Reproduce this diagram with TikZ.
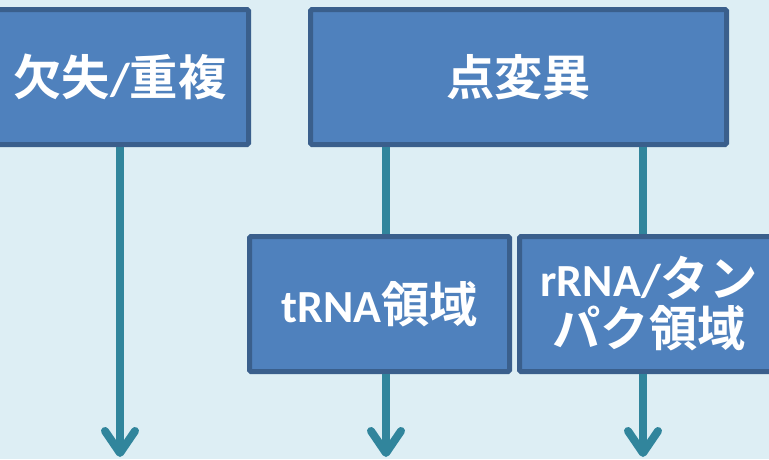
\documentclass[tikz,border=0pt]{standalone}
\usepackage{fontspec}
\setmainfont{Carlito}
\newfontfamily\cjk{Noto Sans CJK JP Bold}[BoldFont={Noto Sans CJK JP Bold},Scale=1.05]
\usetikzlibrary{arrows.meta}
\definecolor{bgc}{HTML}{DDEEF4}
\definecolor{boxfill}{HTML}{4F81BD}
\definecolor{boxline}{HTML}{3A5F8C}
\definecolor{teal}{HTML}{31859C}
\begin{document}
\begin{tikzpicture}[x=1pt,y=-1pt,
  box/.style={draw=boxline,fill=boxfill,line width=5pt,rounded corners=1.5pt,
    minimum height=135pt,inner sep=0pt,align=center,text=white,
    font=\fontsize{46}{50}\selectfont\bfseries},
  link/.style={draw=teal,line width=8pt},
  arr/.style={link,-{Straight Barb[length=22pt,width=30pt,line cap=round,line join=round]}}]
\useasboundingbox (0,0) rectangle (769,459);
\clip (0,0) rectangle (769,459);
\fill[bgc] (0,0) rectangle (769,459);
\coordinate (xa) at (120,0);
\coordinate (xb) at (386,0);
\coordinate (xc) at (643,0);
\coordinate (ea) at (120,457);
\coordinate (eb) at (386,457);
\coordinate (ec) at (643,457);
\node[box,minimum width=257pt] (b1) at (120,77) {{\cjk 欠失}/{\cjk 重複}};
\node[box,minimum width=416pt] (b2) at (518.5,77) {\cjk 点変異};
\node[box,minimum width=260pt] (b3) at (379.5,304) {tRNA{\cjk 領域}};
\node[box,minimum width=259pt] (b4) at (649,304) {rRNA/{\cjk タン}\\{\cjk パク領域}};
\draw[arr] (b1.south -| xa) -- (ea);
\draw[link] (b2.south -| xb) -- (b3.north -| xb);
\draw[link] (b2.south -| xc) -- (b4.north -| xc);
\draw[arr] (b3.south -| xb) -- (eb);
\draw[arr] (b4.south -| xc) -- (ec);
\end{tikzpicture}
\end{document}
